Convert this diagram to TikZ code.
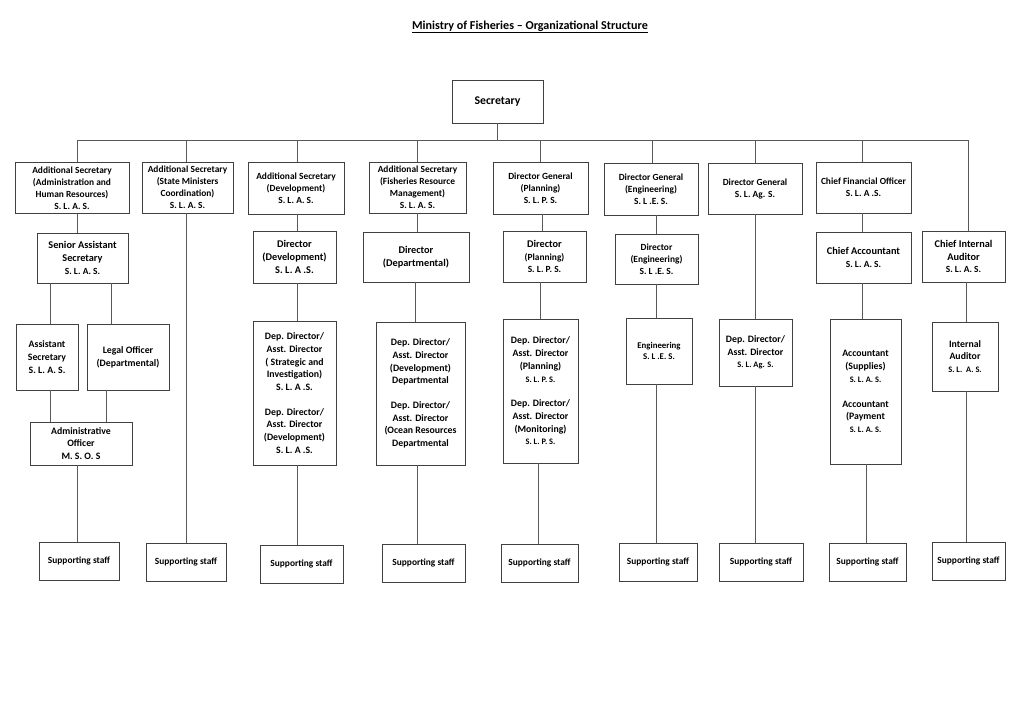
\documentclass[tikz,border=0pt]{standalone}
\usepackage{fontspec}
\setmainfont{Carlito}
\newcommand{\fxs}{\fontsize{8.4}{10.5}\selectfont}
\newcommand{\fsm}{\fontsize{9.4}{12}\selectfont}
\newcommand{\fmd}{\fontsize{9.8}{12.7}\selectfont}
\newcommand{\fbg}{\fontsize{10.3}{12.8}\selectfont}
\tikzset{
  box/.style={draw=black!75, line width=0.8pt, fill=white, inner sep=1pt, align=center, font=\bfseries\fsm},
  ln/.style={draw=black!65, line width=0.8pt},
}
\begin{document}
\begin{tikzpicture}[x=1pt,y=-1pt]
\fill[white] (0,0) rectangle (1024,724);
\useasboundingbox (0,0) rectangle (1024,724);

\node[font=\bfseries\fontsize{12.1}{14}\selectfont] (title) at (530,27) {\underline{Ministry of Fisheries – Organizational Structure}};

\node[box, font=\bfseries\fontsize{11.8}{14}\selectfont, minimum width=91pt, minimum height=43pt] (sec) at (497.5,101.5) {Secretary};

% row 1
\node[box, minimum width=114pt, minimum height=51pt] (A1) at (72,188) {Additional Secretary\\(Administration and\\Human Resources)\\S. L. A. S.};
\node[box, minimum width=91pt, minimum height=51pt] (A2) at (187.5,187.5) {Additional Secretary\\(State Ministers\\Coordination)\\S. L. A. S.};
\node[box, minimum width=96pt, minimum height=52pt] (A3) at (296,188) {Additional Secretary\\(Development)\\S. L. A. S.};
\node[box, minimum width=97pt, minimum height=51pt] (A4) at (417.5,187.5) {Additional Secretary\\(Fisheries Resource\\Management)\\S. L. A. S.};
\node[box, minimum width=95pt, minimum height=52pt] (A5) at (540.5,188) {Director General\\(Planning)\\S. L. P. S.};
\node[box, minimum width=94pt, minimum height=52pt] (A6) at (651,189) {Director General\\(Engineering)\\S. L .E. S.};
\node[box, minimum width=94pt, minimum height=51pt] (A7) at (755,188.5) {Director General\\S. L. Ag. S.};
\node[box, minimum width=95pt, minimum height=51pt] (A8) at (863.5,187.5) {Chief Financial Officer\\S. L. A .S.};

% row 2
\node[box, font=\bfseries\fbg, minimum width=91pt, minimum height=50pt] (B1) at (82.5,258) {Senior Assistant\\Secretary\\{\fsm S. L. A. S.}};
\node[box, font=\bfseries\fbg, minimum width=83pt, minimum height=52pt] (B3) at (294.5,257) {Director\\(Development)\\S. L. A .S.};
\node[box, font=\bfseries\fbg, minimum width=106pt, minimum height=50pt] (B4) at (416,257) {Director\\(Departmental)};
\node[box, font=\bfseries\fbg, minimum width=83pt, minimum height=51pt] (B5) at (544.5,256.5) {Director\\{\fsm (Planning)}\\{\fsm S. L. P. S.}};
\node[box, font=\bfseries\fsm, minimum width=83pt, minimum height=50pt] (B6) at (656.5,259) {Director\\(Engineering)\\S. L .E. S.};
\node[box, font=\bfseries\fbg, minimum width=95pt, minimum height=51pt] (B8) at (863.5,257.5) {Chief Accountant\\{\fsm S. L. A. S.}};
\node[box, font=\bfseries\fbg, minimum width=83pt, minimum height=51pt] (B9) at (963.5,256.5) {Chief Internal\\Auditor\\{\fsm S. L. A. S.}};

% row 3
\node[box, font=\bfseries\fmd, minimum width=62pt, minimum height=66pt] (C1a) at (47,357) {Assistant\\Secretary\\S. L. A. S.};
\node[box, font=\bfseries\fmd, minimum width=82pt, minimum height=66pt] (C1b) at (128,357) {Legal Officer\\(Departmental)};
\node[box, font=\bfseries\fmd, minimum width=102pt, minimum height=43pt] (D1) at (81,443.5) {Administrative\\Officer\\M. S. O. S};
\node[box, font=\bfseries\fmd, minimum width=83pt, minimum height=144pt] (C3) at (294.5,393) {Dep. Director/\\Asst. Director\\( Strategic and\\Investigation)\\S. L. A .S.\\[12pt]Dep. Director/\\Asst. Director\\(Development)\\S. L. A .S.};
\node[box, font=\bfseries\fmd, minimum width=89pt, minimum height=143pt] (C4) at (420.5,393.5) {Dep. Director/\\Asst. Director\\(Development)\\Departmental\\[12pt]Dep. Director/\\Asst. Director\\(Ocean Resources\\Departmental};
\node[box, font=\bfseries\fmd, minimum width=75pt, minimum height=144pt] (C5) at (540.5,391) {Dep. Director/\\Asst. Director\\(Planning)\\{\fxs S. L. P. S.}\\[12pt]Dep. Director/\\Asst. Director\\(Monitoring)\\{\fxs S. L. P. S.}};
\node[box, font=\bfseries\fontsize{8.8}{11}\selectfont, minimum width=66pt, minimum height=66pt] (C6) at (659,351) {Engineering\\S. L .E. S.};
\node[box, font=\bfseries\fmd, minimum width=73pt, minimum height=67pt] (C7) at (755.5,352.5) {Dep. Director/\\Asst. Director\\{\fxs S. L. Ag. S.}};
\node[box, font=\bfseries\fmd, minimum width=71pt, minimum height=145pt] (C8) at (865.5,391.5) {Accountant\\(Supplies)\\{\fxs S. L. A. S.}\\[12pt]Accountant\\(Payment\\{\fxs S. L. A. S.}};
\node[box, font=\bfseries\fmd, minimum width=66pt, minimum height=69pt] (C9) at (965,356.5) {Internal\\Auditor\\{\fxs S. L.~~A. S.}};

% supporting staff
\node[box, minimum width=80pt, minimum height=38pt] (S1) at (79,561) {Supporting staff};
\node[box, minimum width=80pt, minimum height=38pt] (S2) at (186,562) {Supporting staff};
\node[box, minimum width=83pt, minimum height=38pt] (S3) at (301.5,564) {Supporting staff};
\node[box, minimum width=83pt, minimum height=38pt] (S4) at (423.5,563) {Supporting staff};
\node[box, minimum width=77pt, minimum height=38pt] (S5) at (539.5,563) {Supporting staff};
\node[box, minimum width=78pt, minimum height=38pt] (S6) at (658,562) {Supporting staff};
\node[box, minimum width=84pt, minimum height=38pt] (S7) at (761,562) {Supporting staff};
\node[box, minimum width=77pt, minimum height=38pt] (S8) at (867.5,562) {Supporting staff};
\node[box, minimum width=73pt, minimum height=38pt] (S9) at (968.5,561) {Supporting staff};

% connectors
\coordinate (busL) at (77,140);
\coordinate (busR) at (968,140);
\draw[ln] (sec.south) -- (sec.south |- busL);
\draw[ln] (busL) -- (busR);
\draw[ln] (busL) -- (77,0 |- A1.north);
\draw[ln] (186,140) -- (186,0 |- A2.north);
\draw[ln] (297,140) -- (297,0 |- A3.north);
\draw[ln] (417,140) -- (417,0 |- A4.north);
\draw[ln] (540,140) -- (540,0 |- A5.north);
\draw[ln] (652,140) -- (652,0 |- A6.north);
\draw[ln] (755,140) -- (755,0 |- A7.north);
\draw[ln] (862,140) -- (862,0 |- A8.north);
\draw[ln] (busR) -- (968,0 |- B9.north);

\draw[ln] (77,0 |- A1.south) -- (77,0 |- B1.north);
\draw[ln] (50,0 |- B1.south) -- (50,0 |- C1a.north);
\draw[ln] (111,0 |- B1.south) -- (111,0 |- C1b.north);
\draw[ln] (50,0 |- C1a.south) -- (50,0 |- D1.north);
\draw[ln] (106,0 |- C1b.south) -- (106,0 |- D1.north);
\draw[ln] (77,0 |- D1.south) -- (77,0 |- S1.north);

\draw[ln] (186,0 |- A2.south) -- (186,0 |- S2.north);

\draw[ln] (297,0 |- A3.south) -- (297,0 |- B3.north);
\draw[ln] (297,0 |- B3.south) -- (297,0 |- C3.north);
\draw[ln] (297,0 |- C3.south) -- (297,0 |- S3.north);

\draw[ln] (417,0 |- A4.south) -- (417,0 |- B4.north);
\draw[ln] (415,0 |- B4.south) -- (415,0 |- C4.north);
\draw[ln] (417,0 |- C4.south) -- (417,0 |- S4.north);

\draw[ln] (542,0 |- A5.south) -- (542,0 |- B5.north);
\draw[ln] (540,0 |- B5.south) -- (540,0 |- C5.north);
\draw[ln] (538,0 |- C5.south) -- (538,0 |- S5.north);

\draw[ln] (656,0 |- A6.south) -- (656,0 |- B6.north);
\draw[ln] (656,0 |- B6.south) -- (656,0 |- C6.north);
\draw[ln] (656,0 |- C6.south) -- (656,0 |- S6.north);

\draw[ln] (755,0 |- A7.south) -- (755,0 |- C7.north);
\draw[ln] (755,0 |- C7.south) -- (755,0 |- S7.north);

\draw[ln] (862,0 |- A8.south) -- (862,0 |- B8.north);
\draw[ln] (862,0 |- B8.south) -- (862,0 |- C8.north);
\draw[ln] (866,0 |- C8.south) -- (866,0 |- S8.north);

\draw[ln] (966,0 |- B9.south) -- (966,0 |- C9.north);
\draw[ln] (966,0 |- C9.south) -- (966,0 |- S9.north);
\end{tikzpicture}
\end{document}
